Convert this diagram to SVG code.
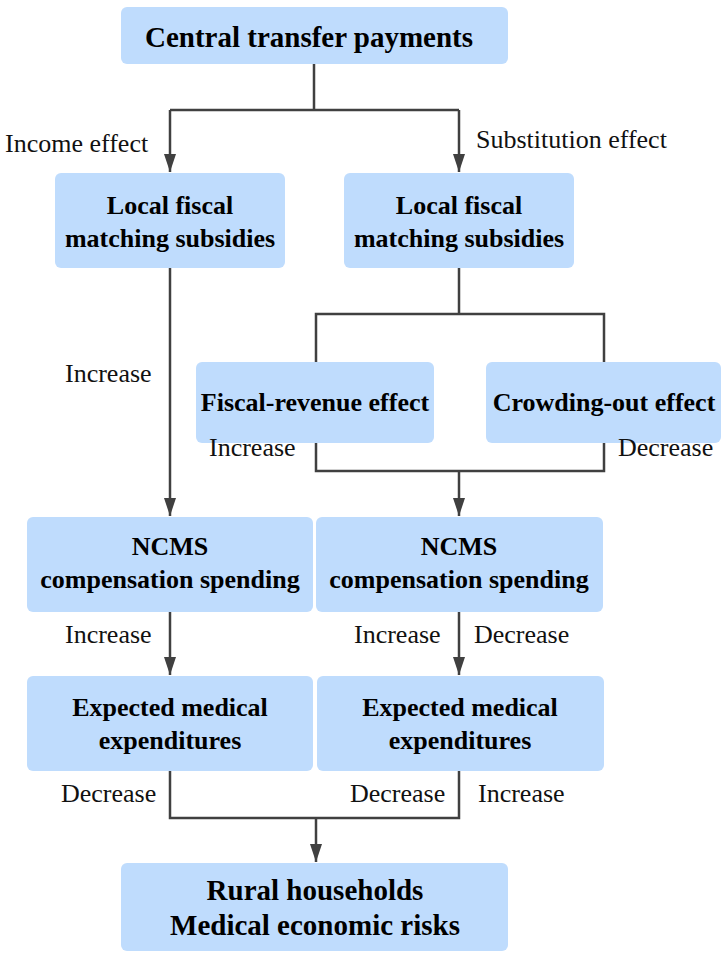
<svg xmlns="http://www.w3.org/2000/svg" width="726" height="960" viewBox="0 0 726 960">
<defs>
<style>
.box{fill:#bfdcfd;}
.bt{font-family:'Liberation Serif','Times New Roman',Times,serif;font-weight:bold;font-size:26px;fill:#000;text-anchor:middle;}
.bt2{font-size:29px;}
.lb{font-family:'Liberation Serif','Times New Roman',Times,serif;font-size:26px;fill:#111;}
.ln{fill:none;stroke:#404040;stroke-width:2.5;}
</style>
<marker id="ad" markerUnits="userSpaceOnUse" markerWidth="20" markerHeight="14" refX="18" refY="6" orient="auto" viewBox="0 0 20 12">
<path d="M0,0 L18,6 L0,12 Z" fill="#404040"/>
</marker>
</defs>
<rect width="726" height="960" fill="#fff"/>
<g id="connectors">
<path class="ln" d="M314,64 V110 M170,110 H459"/>
<path class="ln" d="M170,110 V172" marker-end="url(#ad)"/>
<path class="ln" d="M459,110 V172" marker-end="url(#ad)"/>
<path class="ln" d="M170,268 V516" marker-end="url(#ad)"/>
<path class="ln" d="M459,268 V314 M316,362 V314 H604 V362"/>
<path class="ln" d="M316,443 V471 H604 V443"/>
<path class="ln" d="M459,471 V516" marker-end="url(#ad)"/>
<path class="ln" d="M170,612 V675" marker-end="url(#ad)"/>
<path class="ln" d="M459,612 V675" marker-end="url(#ad)"/>
<path class="ln" d="M170,771 V818 H459 V771"/>
<path class="ln" d="M316,818 V862" marker-end="url(#ad)"/>
</g>
<g id="n-central"><rect class="box" x="121" y="7" width="387" height="57" rx="6"/><text class="bt bt2" x="309" y="47">Central transfer payments</text></g>
<g id="n-local-left"><rect class="box" x="55" y="173" width="230" height="95" rx="6"/><text class="bt" x="170" y="214">Local fiscal</text><text class="bt" x="170" y="247">matching subsidies</text></g>
<g id="n-local-right"><rect class="box" x="344" y="173" width="230" height="95" rx="6"/><text class="bt" x="459" y="214">Local fiscal</text><text class="bt" x="459" y="247">matching subsidies</text></g>
<g id="n-fiscal-revenue"><rect class="box" x="196" y="362" width="238" height="81" rx="6"/><text class="bt" x="315" y="411">Fiscal-revenue effect</text></g>
<g id="n-crowding-out"><rect class="box" x="486" y="362" width="235" height="81" rx="6"/><text class="bt" x="604" y="411">Crowding-out effect</text></g>
<g id="n-ncms-left"><rect class="box" x="27" y="517" width="286" height="95" rx="6"/><text class="bt" x="170" y="555">NCMS</text><text class="bt" x="170" y="588">compensation spending</text></g>
<g id="n-ncms-right"><rect class="box" x="316" y="517" width="287" height="95" rx="6"/><text class="bt" x="459" y="555">NCMS</text><text class="bt" x="459" y="588">compensation spending</text></g>
<g id="n-expected-left"><rect class="box" x="27" y="676" width="286" height="95" rx="6"/><text class="bt" x="170" y="716">Expected medical</text><text class="bt" x="170" y="749">expenditures</text></g>
<g id="n-expected-right"><rect class="box" x="317" y="676" width="287" height="95" rx="6"/><text class="bt" x="460" y="716">Expected medical</text><text class="bt" x="460" y="749">expenditures</text></g>
<g id="n-rural"><rect class="box" x="121" y="863" width="387" height="88" rx="6"/><text class="bt bt2" x="315" y="900">Rural households</text><text class="bt bt2" x="315" y="935">Medical economic risks</text></g>
<g id="labels">
<text class="lb" x="5" y="152">Income effect</text>
<text class="lb" x="476" y="148">Substitution effect</text>
<text class="lb" x="65" y="382">Increase</text>
<text class="lb" x="209" y="456">Increase</text>
<text class="lb" x="618" y="456">Decrease</text>
<text class="lb" x="65" y="643">Increase</text>
<text class="lb" x="354" y="643">Increase</text>
<text class="lb" x="474" y="643">Decrease</text>
<text class="lb" x="61" y="802">Decrease</text>
<text class="lb" x="350" y="802">Decrease</text>
<text class="lb" x="478" y="802">Increase</text>
</g>
</svg>
